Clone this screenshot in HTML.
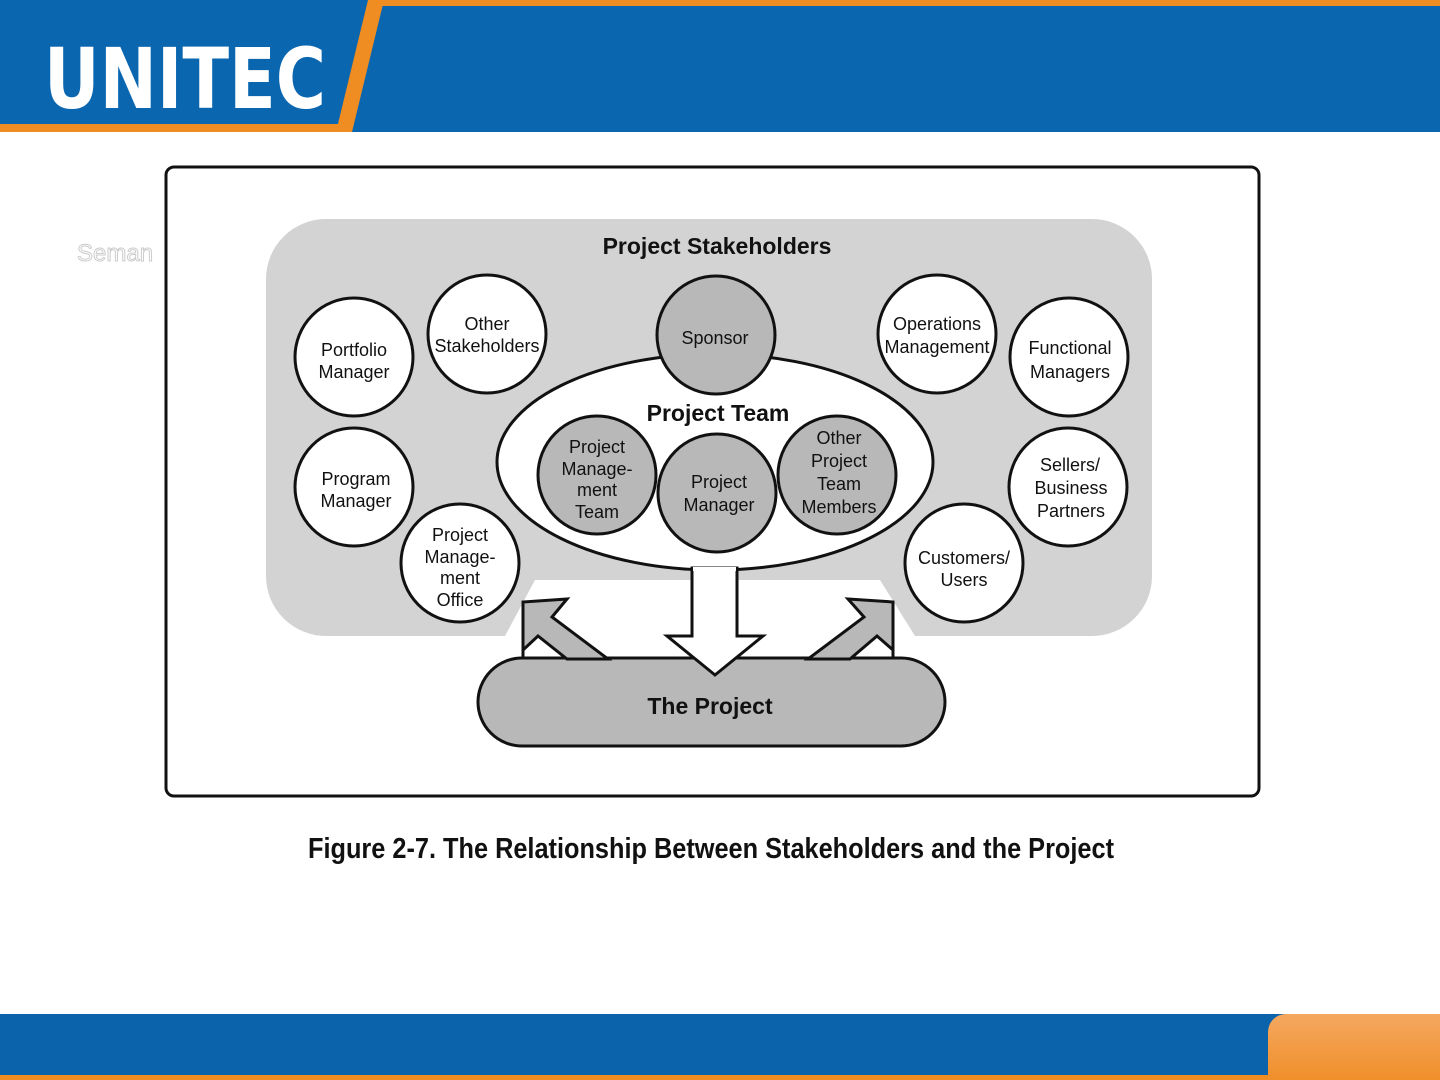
<!DOCTYPE html>
<html><head><meta charset="utf-8"><style>
html,body{margin:0;padding:0;width:1440px;height:1080px;overflow:hidden;background:#fff}
svg text{font-family:"Liberation Sans",sans-serif}
</style></head><body>
<svg width="1440" height="1080" viewBox="0 0 1440 1080" xmlns="http://www.w3.org/2000/svg">
<defs>
<linearGradient id="og" x1="0" y1="0" x2="0" y2="1"><stop offset="0" stop-color="#f5a860"/><stop offset="1" stop-color="#ee8a1e"/></linearGradient>
</defs>
<!-- header -->
<rect x="0" y="0" width="1440" height="132" fill="#0b66b0"/>
<rect x="370" y="0" width="1070" height="6" fill="#ef8c22"/>
<rect x="0" y="124" width="350" height="8" fill="#ef8c22"/>
<polygon points="368,0 384,0 352,132 336,132" fill="#ef8c22"/>
<text x="44" y="108" font-size="84" font-weight="bold" fill="#fff" style="font-family:'DejaVu Sans','Liberation Sans',sans-serif" textLength="282" lengthAdjust="spacingAndGlyphs">UNITEC</text>
<text x="77" y="261" font-size="24" fill="#fff" stroke="#ccc" stroke-width="1">Seman</text>
<!-- frame -->
<rect x="166" y="167" width="1093" height="629" rx="8" fill="#fff" stroke="#111" stroke-width="3"/>
<!-- stakeholder gray area -->
<path d="M326,219 H1092 A60,60 0 0 1 1152,279 V576 A60,60 0 0 1 1092,636 H915 L880,580 H535 L505,636 H326 A60,60 0 0 1 266,576 V279 A60,60 0 0 1 326,219 Z" fill="#d3d3d3"/>
<text x="717" y="254" font-size="23" font-weight="bold" text-anchor="middle" fill="#111">Project Stakeholders</text>
<!-- team ellipse -->
<ellipse cx="715" cy="462" rx="218" ry="108" fill="#fff" stroke="#111" stroke-width="3"/>
<g stroke="#111" stroke-width="3">
<circle cx="354" cy="357" r="59" fill="#fff"/>
<circle cx="487" cy="334" r="59" fill="#fff"/>
<circle cx="716" cy="335" r="59" fill="#b8b8b8"/>
<circle cx="937" cy="334" r="59" fill="#fff"/>
<circle cx="1069" cy="357" r="59" fill="#fff"/>
<circle cx="354" cy="487" r="59" fill="#fff"/>
<circle cx="460" cy="563" r="59" fill="#fff"/>
<circle cx="1068" cy="487" r="59" fill="#fff"/>
<circle cx="964" cy="563" r="59" fill="#fff"/>
<circle cx="597" cy="475" r="59" fill="#b8b8b8"/>
<circle cx="837" cy="475" r="59" fill="#b8b8b8"/>
<circle cx="717" cy="493" r="59" fill="#b8b8b8"/>
</g>
<text x="718" y="421" font-size="23" font-weight="bold" text-anchor="middle" fill="#111">Project Team</text>
<g font-size="18" text-anchor="middle" fill="#111">
<text x="354" y="356">Portfolio</text><text x="354" y="378">Manager</text>
<text x="487" y="330">Other</text><text x="487" y="352">Stakeholders</text>
<text x="715" y="344">Sponsor</text>
<text x="937" y="330">Operations</text><text x="937" y="353">Management</text>
<text x="1070" y="354">Functional</text><text x="1070" y="378">Managers</text>
<text x="356" y="485">Program</text><text x="356" y="507">Manager</text>
<text x="460" y="541">Project</text><text x="460" y="563">Manage-</text><text x="460" y="584">ment</text><text x="460" y="606">Office</text>
<text x="1070" y="471">Sellers/</text><text x="1071" y="494">Business</text><text x="1071" y="517">Partners</text>
<text x="964" y="564">Customers/</text><text x="964" y="586">Users</text>
<text x="597" y="453">Project</text><text x="597" y="475">Manage-</text><text x="597" y="496">ment</text><text x="597" y="518">Team</text>
<text x="839" y="444">Other</text><text x="839" y="467">Project</text><text x="839" y="490">Team</text><text x="839" y="513">Members</text>
<text x="719" y="488">Project</text><text x="719" y="511">Manager</text>
</g>
<!-- project -->
<rect x="478" y="658" width="467" height="88" rx="44" fill="#b8b8b8" stroke="#111" stroke-width="3"/>
<text x="710" y="714" font-size="23" font-weight="bold" text-anchor="middle" fill="#111">The Project</text>
<!-- arrows -->
<g stroke="#111" stroke-width="3" stroke-linejoin="miter">
<polygon points="523,658 523,602 567,599 552,617 608,659 567,659 538,636 523,650" fill="#b8b8b8"/>
<polygon points="893,658 893,602 848,599 864,617 808,659 850,659 877,636 893,650" fill="#b8b8b8"/>
<polygon points="692,568 692,636 667,636 715,675 763,636 737,636 737,568" fill="#fff"/>
</g>
<line x1="693" y1="569" x2="736" y2="569" stroke="#fff" stroke-width="4"/>
<!-- caption -->
<text x="711" y="858" font-size="29" font-weight="bold" text-anchor="middle" fill="#111" style="font-family:'Liberation Sans Narrow','Liberation Sans',sans-serif" textLength="806" lengthAdjust="spacingAndGlyphs">Figure 2-7. The Relationship Between Stakeholders and the Project</text>
<!-- footer -->
<rect x="0" y="1014" width="1440" height="66" fill="#0b63ac"/>
<rect x="0" y="1075" width="1440" height="5" fill="#ef8c22"/>
<rect x="1268" y="1014" width="200" height="80" rx="18" fill="url(#og)"/>
</svg>
</body></html>
